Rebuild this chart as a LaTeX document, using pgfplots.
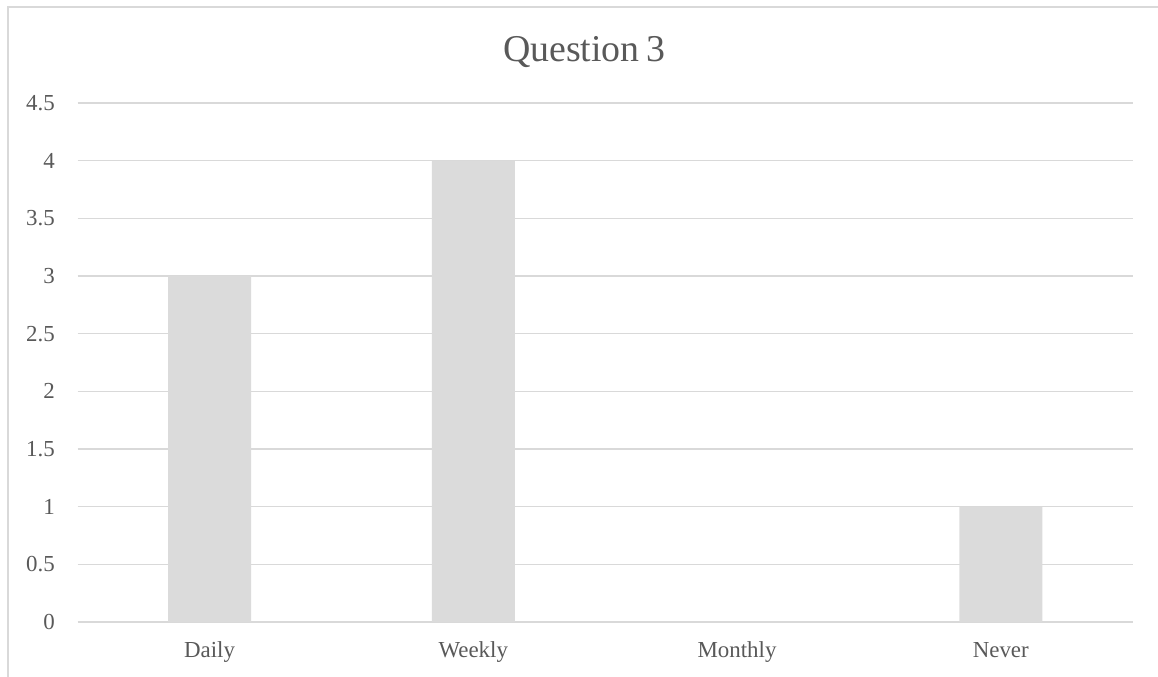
\documentclass[border=0pt]{standalone}
\usepackage{pgfplots}
\pgfplotsset{compat=1.18}
\usepackage{fontspec}
\setmainfont{Liberation Serif}
\definecolor{txt}{HTML}{595959}
\definecolor{gridc}{HTML}{D9D9D9}
\definecolor{barc}{HTML}{DBDBDB}
\begin{document}
\begin{tikzpicture}
  % page frame
  \path[use as bounding box] (0,0) rectangle (1158bp,677bp);
  \draw[gridc, line width=2bp] (8bp,0) -- (8bp,670bp) -- (1160bp,670bp);
  % chart title
  \node[anchor=base, text=txt, inner sep=0pt, font=\fontsize{38}{40}\selectfont]
    at (584bp,615bp) {Question\,3};
  \begin{axis}[
    at={(77.7bp,55bp)}, anchor=south west,
    scale only axis, width=1055bp, height=519bp,
    xmin=-0.5, xmax=3.5, ymin=0, ymax=4.5,
    xtick={0,1,2,3},
    xticklabels={Daily,Weekly,Monthly,Never},
    ytick distance=0.5,
    ymajorgrids,
    major grid style={gridc, line width=1.5bp},
    axis line style={draw=none},
    major tick length=0pt,
    tick style={draw=none},
    /pgf/number format/assume math mode=true,
    ticklabel style={text=txt, font=\fontsize{23}{25}\selectfont, inner sep=0pt},
    yticklabel style={anchor=east, xshift=-22.7bp},
    xticklabel style={anchor=base, yshift=-35bp},
    ybar, bar width=83bp,
  ]
    \addplot[fill=barc, draw=none] coordinates {(0,3) (1,4) (2,0) (3,1)};
  \end{axis}
\end{tikzpicture}
\end{document}
